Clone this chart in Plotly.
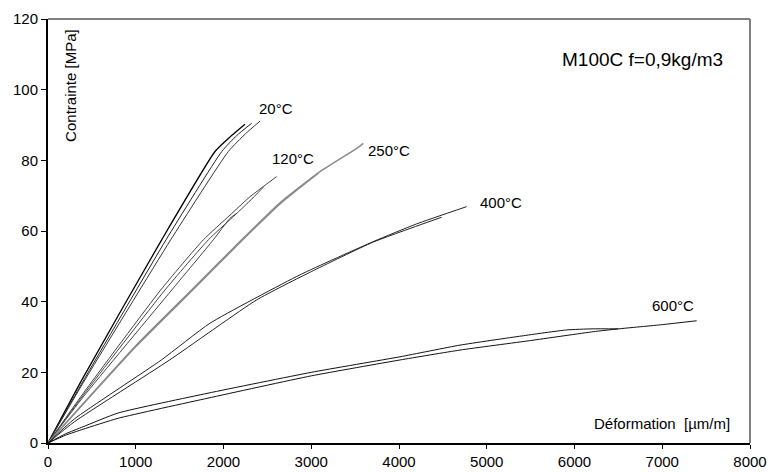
import plotly.graph_objects as go

# ---- data (strain in µm/m, stress in MPa) ----
eps_20a = [0, 400, 1295, 1903, 2055, 2245]
sig_20a = [0, 18.5, 57.5, 82.5, 86.2, 90.2]
eps_20b = [0, 400, 1345, 1980, 2150, 2321]
sig_20b = [0, 17.5, 57.5, 82.5, 87.0, 90.5]
eps_20c = [0, 400, 1398, 2055, 2250, 2416]
sig_20c = [0, 17.0, 57.5, 82.5, 87.5, 91.1]

eps_120a = [0, 400, 1284, 1770, 2074, 2302, 2606]
sig_120a = [0, 14.0, 43.3, 57.5, 64.5, 69.7, 75.4]
eps_120b = [0, 400, 1333, 1827, 2100, 2300, 2454]
sig_120b = [0, 13.5, 43.3, 57.5, 63.8, 68.5, 72.4]
eps_120c = [0, 400, 1410, 1884, 2074, 2150]
sig_120c = [0, 13.0, 43.3, 57.5, 63.6, 65.0]

eps_250a = [0, 1000, 1637, 2207, 2644, 3077, 3518, 3594]
sig_250a = [0, 27.5, 43.3, 57.5, 68.0, 76.4, 83.4, 84.8]
eps_250b = [0, 1000, 1650, 2220, 2660, 3077]
sig_250b = [0, 27.2, 43.3, 57.5, 68.0, 76.3]

eps_400a = [0, 300, 1292, 1846, 2872, 3707, 4200, 4771]
sig_400a = [0, 6.8, 23.5, 33.9, 47.6, 57.0, 62.0, 66.9]
eps_400b = [0, 300, 1386, 2378, 3000, 3700, 4486]
sig_400b = [0, 6.0, 23.5, 40.5, 48.5, 56.8, 63.9]

eps_600a = [0, 200, 400, 800, 1823, 3000, 4011, 4695, 5400, 5911, 6200, 6500]
sig_600a = [0, 2.6, 4.6, 8.5, 14.1, 20.0, 24.4, 27.7, 30.3, 32.0, 32.3, 32.3]
eps_600b = [0, 200, 400, 800, 1823, 3000, 4011, 4695, 5500, 6214, 6500, 7000, 7392]
sig_600b = [0, 2.2, 3.9, 7.0, 12.7, 19.0, 23.5, 26.3, 29.0, 31.5, 32.3, 33.5, 34.6]

x_ticks = [0, 1000, 2000, 3000, 4000, 5000, 6000, 7000, 8000]
y_ticks = [0, 20, 40, 60, 80, 100, 120]

curve_labels = ["20°C", "120°C", "250°C", "400°C", "600°C"]
label_x = [2598, 2792, 3886, 5168, 7123]
label_y = [94.8, 80.4, 82.9, 68.2, 38.8]

series = [
    (eps_20a, sig_20a, "#000000", 1.3),
    (eps_20b, sig_20b, "#222222", 1.0),
    (eps_20c, sig_20c, "#333333", 1.0),
    (eps_120a, sig_120a, "#444444", 1.0),
    (eps_120b, sig_120b, "#444444", 1.0),
    (eps_120c, sig_120c, "#444444", 1.0),
    (eps_250a, sig_250a, "#8a8a8a", 1.5),
    (eps_250b, sig_250b, "#8a8a8a", 1.3),
    (eps_400a, sig_400a, "#222222", 1.0),
    (eps_400b, sig_400b, "#222222", 1.0),
    (eps_600a, sig_600a, "#111111", 1.0),
    (eps_600b, sig_600b, "#111111", 1.0),
]

FONT = "Arial, 'Liberation Sans', sans-serif"
FS = 15

fig = go.Figure()
for xs, ys, col, w in series:
    fig.add_trace(go.Scatter(
        x=xs, y=ys, mode="lines",
        line=dict(color=col, width=w, shape="spline", smoothing=0.5),
        showlegend=False, hoverinfo="skip"))

annotations = []
for t, lx, ly in zip(curve_labels, label_x, label_y):
    annotations.append(dict(x=lx, y=ly, xref="x", yref="y", text=t,
                            showarrow=False, font=dict(size=FS, color="#000")))
annotations.append(dict(x=6770, y=108.5, xref="x", yref="y", text="M100C f=0,9kg/m3",
                        showarrow=False, font=dict(size=19, color="#000")))
annotations.append(dict(x=7795, y=5.4, xref="x", yref="y", xanchor="right",
                        text="Déformation\u00a0\u00a0[µm/m]",
                        showarrow=False, font=dict(size=FS, color="#000")))
annotations.append(dict(x=256, y=101.2, xref="x", yref="y", text="Contrainte [MPa]",
                        textangle=-90, showarrow=False, font=dict(size=FS, color="#000")))

fig.update_layout(
    width=770, height=472,
    margin=dict(l=48, r=20, t=19, b=29, pad=0, autoexpand=False),
    paper_bgcolor="white", plot_bgcolor="white",
    font=dict(family=FONT, size=FS, color="#000"),
    annotations=annotations,
    shapes=[
        dict(type="line", xref="paper", yref="paper", x0=0, x1=1, y0=1, y1=1,
             line=dict(color="#808080", width=2)),
        dict(type="line", xref="paper", yref="paper", x0=1, x1=1, y0=0, y1=1,
             line=dict(color="#808080", width=2)),
    ],
)
fig.update_xaxes(range=[0, 8000], tickvals=x_ticks, ticktext=[str(v) for v in x_ticks],
                 automargin=False,
                 showgrid=False, zeroline=False, showline=True, linecolor="#000", linewidth=2,
                 ticks="outside", ticklen=4, tickwidth=1, tickcolor="#000",
                 tickfont=dict(size=FS, family=FONT))
fig.update_yaxes(range=[0, 120], tickvals=y_ticks, ticktext=[str(v) for v in y_ticks],
                 automargin=False,
                 showgrid=False, zeroline=False, showline=True, linecolor="#000", linewidth=2,
                 ticks="outside", ticklen=5, tickwidth=1, tickcolor="#000",
                 tickfont=dict(size=FS, family=FONT))

fig.write_html("out.html",
               config={"displayModeBar": False, "staticPlot": True},
               post_script="document.body.style.margin='0px';document.body.style.overflow='hidden';")
